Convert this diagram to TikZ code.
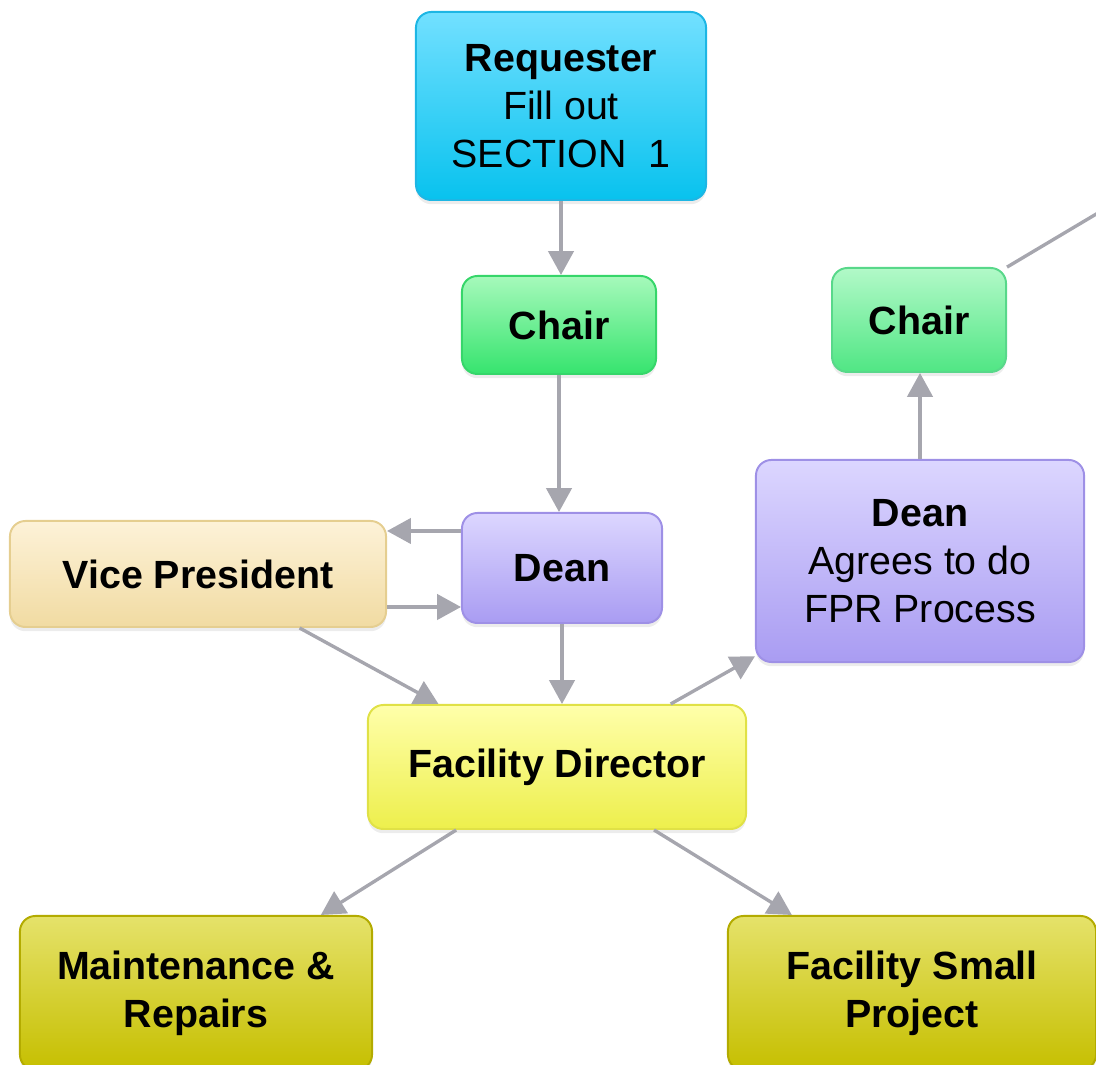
\documentclass[tikz,border=0pt]{standalone}
\usepackage{fontspec}
\setmainfont{Liberation Sans}
\usepackage{tikz}
\usetikzlibrary{arrows.meta,calc,shadows}

\definecolor{linkgray}{HTML}{A6A6AE}
\definecolor{reqtop}{HTML}{72E0FF}
\definecolor{reqbot}{HTML}{08C2EE}
\definecolor{reqline}{HTML}{1DB6E4}
\definecolor{chtop}{HTML}{A6F9BB}
\definecolor{chbot}{HTML}{36E46E}
\definecolor{chline}{HTML}{36D66A}
\definecolor{chtopb}{HTML}{B2F9C8}
\definecolor{chbotb}{HTML}{50E684}
\definecolor{chlineb}{HTML}{58D88A}
\definecolor{dntop}{HTML}{DCD6FF}
\definecolor{dnbot}{HTML}{A99CF2}
\definecolor{dnline}{HTML}{9E90E6}
\definecolor{vptop}{HTML}{FDF2D8}
\definecolor{vpbot}{HTML}{F1DBA2}
\definecolor{vpline}{HTML}{E5CE90}
\definecolor{fdtop}{HTML}{FFFFAA}
\definecolor{fdbot}{HTML}{EDEF4C}
\definecolor{fdline}{HTML}{E0E146}
\definecolor{oltop}{HTML}{E5E26A}
\definecolor{olbot}{HTML}{C6BF00}
\definecolor{olline}{HTML}{B3AB00}

\begin{document}
\begin{tikzpicture}[x=0.025cm,y=0.025cm,
    box/.style={draw, rounded corners=11pt, align=center, inner sep=0pt, line width=1.4pt,
        font=\fontsize{28}{34}\selectfont,
        drop shadow={opacity=0.15,shadow xshift=0pt,shadow yshift=-3pt}},
    link/.style={draw=linkgray, line width=2.4pt, -{Triangle[length=17pt,width=18pt]}}]
    \useasboundingbox (0,0) rectangle (1096,1064);

    \node[box, draw=reqline, top color=reqtop, bottom color=reqbot,
        minimum width=7.25cm, minimum height=4.7cm] (r) at (561,958)
        {\textbf{Requester}\\Fill out\\SECTION\ \ 1};
    \node[box, draw=chline, top color=chtop, bottom color=chbot,
        minimum width=4.85cm, minimum height=2.45cm] (c1) at (559,739) {\textbf{Chair}};
    \node[box, draw=chlineb, top color=chtopb, bottom color=chbotb,
        minimum width=4.35cm, minimum height=2.6cm] (c2) at (919,744) {\textbf{Chair}};
    \node[box, draw=dnline, top color=dntop, bottom color=dnbot,
        minimum width=5cm, minimum height=2.75cm] (d1) at (562,496) {\textbf{Dean}};
    \node[box, draw=vpline, top color=vptop, bottom color=vpbot,
        minimum width=9.4cm, minimum height=2.65cm] (vp) at (198,490) {\textbf{Vice President}};
    \node[box, draw=dnline, top color=dntop, bottom color=dnbot,
        minimum width=8.2cm, minimum height=5.05cm] (d2) at (920,503)
        {\textbf{Dean}\\Agrees to do\\FPR Process};
    \node[box, draw=fdline, top color=fdtop, bottom color=fdbot,
        minimum width=9.45cm, minimum height=3.1cm] (fd) at (557,297) {\textbf{Facility Director}};
    \node[box, draw=olline, top color=oltop, bottom color=olbot,
        minimum width=8.8cm, minimum height=3.85cm] (m) at (196,71)
        {\textbf{Maintenance \&}\\\textbf{Repairs}};
    \node[box, draw=olline, top color=oltop, bottom color=olbot,
        minimum width=9.2cm, minimum height=3.85cm] (s) at (912,71)
        {\textbf{Facility Small}\\\textbf{Project}};

    \coordinate (dv) at ($(d1.west)+(0,37)$);
    \coordinate (vd) at ($(d1.west)+(0,-39)$);
    \coordinate (off) at (1140,876);

    \draw[link] (r.south) -- (r.south |- c1.north);
    \draw[link] (c1.south) -- (c1.south |- d1.north);
    \draw[link] (d1.south) -- (d1.south |- fd.north);
    \draw[link] (d2.north) -- (d2.north |- c2.south);
    \draw[link] (dv) -- (dv -| vp.east);
    \draw[link] (vd -| vp.east) -- (vd);
    \draw[link] (vp.-28) -- (fd.152);
    \draw[link] (fd.29) -- (d2.210);
    \draw[link] (fd.212) -- (m.32);
    \draw[link] (fd.-33) -- (s.147);
    \draw[draw=linkgray, line width=2.4pt] (c2.31) -- (off);
\end{tikzpicture}
\end{document}
